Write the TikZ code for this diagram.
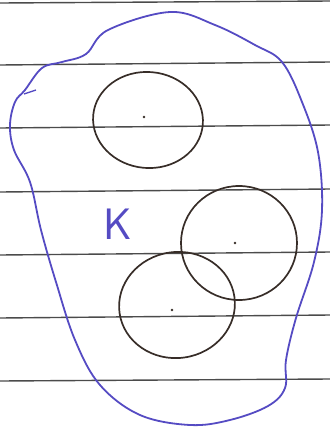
\documentclass[tikz,border=0pt]{standalone}
\usepackage{xcolor}
\usepackage{tikz}
\definecolor{blobblue}{RGB}{85,75,195}
\definecolor{ringbrown}{RGB}{55,45,40}
\definecolor{rulegrey}{RGB}{75,75,75}
\begin{document}
\begin{tikzpicture}[
        x=1pt, y=-1pt,
        paperrule/.style={draw=rulegrey, line width=1.4pt},
        region/.style={draw=blobblue, line width=1.8pt},
        ring/.style={draw=ringbrown, line width=1.7pt},
        centre/.style={circle, fill=ringbrown, inner sep=0pt, minimum size=2.8pt}
    ]
        \useasboundingbox (0,0) rectangle (330,432);
        % Ruled paper
        \foreach \yl/\yr in {3/1, 65/62, 128/125, 192/189, 255/252, 318/315, 381/379}
            \draw[paperrule] (0,\yl) -- (330,\yr);

        % Region K
        \draw[region] plot[smooth cycle, tension=0.6] coordinates {
            (25,90) (42,68) (62,62) (86,54) (108,30) (170,12) (215,25)
            (255,45) (282,62) (302,102) (318,152) (322,210) (314,262)
            (296,318) (286,360) (285,388) (268,406) (230,420) (190,425)
            (140,415) (100,385) (75,340) (56,282) (41,230) (30,182)
            (14,150) (10,125) (15,102)};
        \draw[region, line width=1.3pt] (24,94) -- (36,90);
        \node[text=blobblue, font=\sffamily\fontsize{44}{44}\selectfont] (k) at (118,224) {K};

        % Discs
        \draw[ring] (148,120) ellipse [x radius=55, y radius=48, rotate=-5];
        \draw[ring] (239,243) ellipse [x radius=58, y radius=57];
        \draw[ring] (177,305) ellipse [x radius=58, y radius=53, rotate=8];

        % Centres
        \node[centre] (c1) at (144,117) {};
        \node[centre] (c2) at (235,243) {};
        \node[centre] (c3) at (172,310) {};
    \end{tikzpicture}
\end{document}
